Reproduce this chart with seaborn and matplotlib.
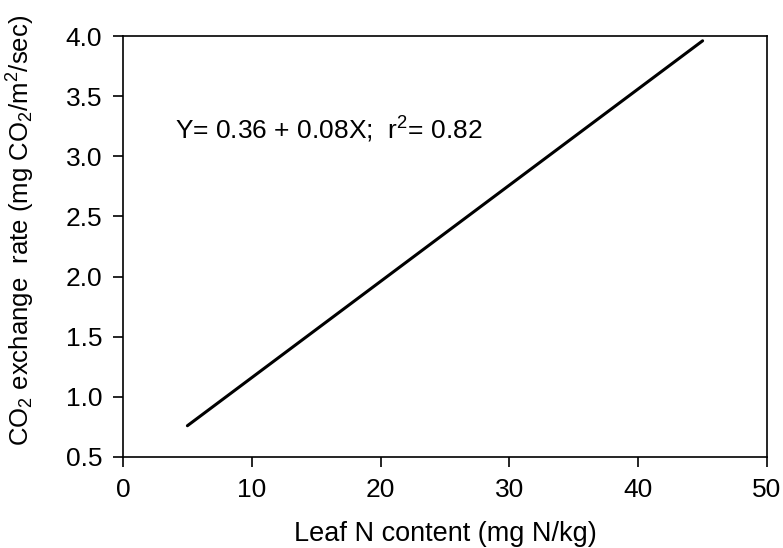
import matplotlib
matplotlib.use("Agg")
import matplotlib.pyplot as plt
import seaborn as sns
import pandas as pd

leaf_n = [5, 45]
co2_rate = [0.76, 3.96]
x_ticks = [0, 10, 20, 30, 40, 50]
y_ticks = [0.5, 1.0, 1.5, 2.0, 2.5, 3.0, 3.5, 4.0]

sns.set_style("ticks")
plt.rcParams['font.family'] = ['Liberation Sans', 'DejaVu Sans']
plt.rcParams['mathtext.fontset'] = 'custom'
plt.rcParams['mathtext.rm'] = 'Liberation Sans'
plt.rcParams['mathtext.it'] = 'Liberation Sans'
plt.rcParams['mathtext.default'] = 'regular'
plt.rcParams['text.color'] = 'black'
plt.rcParams['axes.labelcolor'] = 'black'
plt.rcParams['xtick.color'] = 'black'
plt.rcParams['ytick.color'] = 'black'

df = pd.DataFrame({"x": leaf_n, "y": co2_rate})

fig = plt.figure(figsize=(7.83, 5.48), dpi=100)
ax = fig.add_axes([123/783, 1 - 457/548, 644/783, 421/548])
sns.lineplot(data=df, x="x", y="y", ax=ax, color="black", linewidth=2.2)

ax.set_xlim(0, 50)
ax.set_ylim(0.5, 4.0)
ax.set_xticks(x_ticks)
ax.set_yticks(y_ticks)
ax.set_xticklabels([str(t) for t in x_ticks])
ax.set_yticklabels([f"{t:.1f}" for t in y_ticks])
for s in ax.spines.values():
    s.set_visible(True)
    s.set_linewidth(1.2)
    s.set_color("black")
ax.tick_params(direction="out", length=7, width=1.2, labelsize=19, pad=8,
               colors="black", labelcolor="black")

ax.set_xlabel("Leaf N content (mg N/kg)", fontsize=19.5, labelpad=14, color="black")
ax.set_ylabel(r"CO$_2$ exchange  rate (mg CO$_2$/m$^2$/sec)", fontsize=18.5, color="black")
ax.yaxis.set_label_coords(-0.133, 0.537)

ax.text(4.0, 3.22, r"Y= 0.36 + 0.08X;  r$^2$= 0.82", fontsize=19, va="center",
        ha="left", color="black")

fig.savefig("out.png", dpi=100)
